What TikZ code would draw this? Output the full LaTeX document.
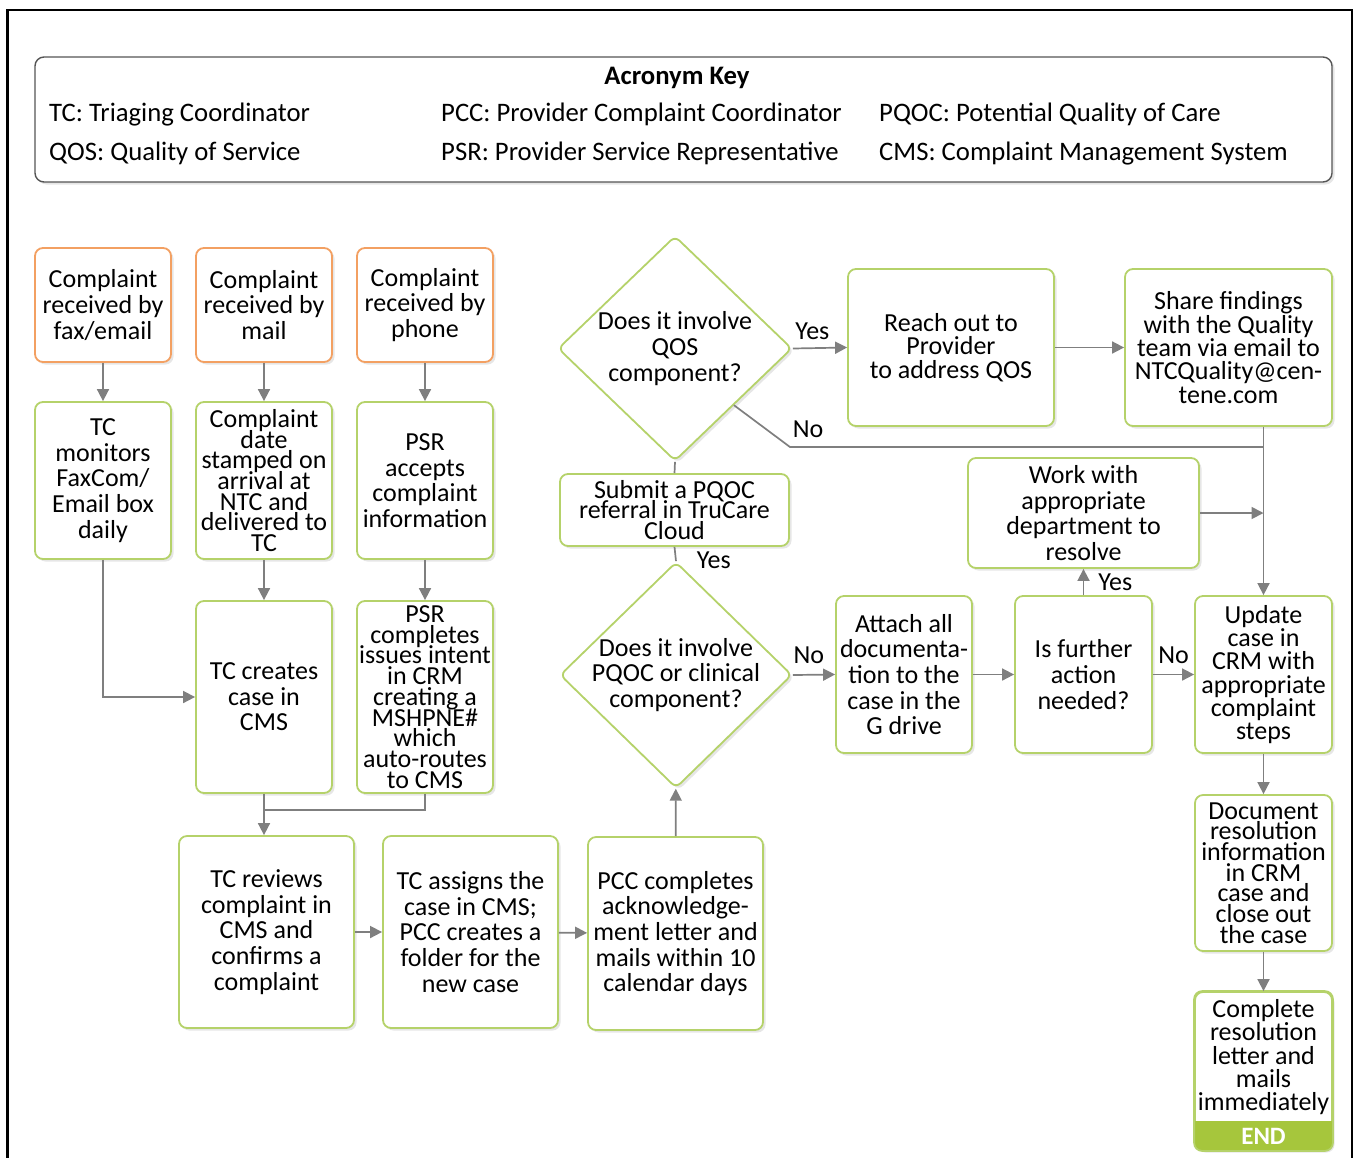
\documentclass[tikz,border=0pt]{standalone}
\usepackage{fontspec}
\setmainfont{Carlito}
\usetikzlibrary{arrows.meta,positioning,shapes.geometric,shadows}
\definecolor{fcgreen}{HTML}{B5D26A}
\definecolor{fcorange}{HTML}{F3A062}
\definecolor{fcgray}{HTML}{7F7F7F}
\definecolor{fckey}{HTML}{555555}
\definecolor{fcend}{HTML}{A6C63C}

\tikzset{
  softshadow/.style={drop shadow={shadow xshift=2.5pt,shadow yshift=-2.5pt,opacity=0.2}},
  txt/.style={font=\fontsize{26pt}{25.6pt}\selectfont},
  txtmid/.style={font=\fontsize{26pt}{23.3pt}\selectfont},
  txttight/.style={font=\fontsize{26pt}{20.7pt}\selectfont},
  basebox/.style={rectangle,rounded corners=8pt,line width=1.8pt,fill=white,
    align=center,inner sep=1pt,softshadow},
  srcbox/.style={basebox,draw=fcorange},
  stepbox/.style={basebox,draw=fcgreen},
  decision/.style={diamond,aspect=1,draw=fcgreen,line width=1.8pt,fill=white,
    rounded corners=6pt,inner sep=-12pt,align=center,softshadow},
  flowline/.style={draw=fcgray,line width=1.7pt},
  flow/.style={flowline,-{Triangle[length=12pt,width=12pt]}},
  lbl/.style={txt,inner sep=2pt},
  keytxt/.style={font=\fontsize{26.7pt}{26.7pt}\selectfont,inner sep=0pt}
}

\begin{document}
\setlength{\lineskiplimit}{-40pt}
\begin{tikzpicture}[x=1pt,y=-1pt]
  \useasboundingbox (0,0) rectangle (1356,1157);
  \clip (0,0) rectangle (1356,1157);

  % ---- Outer frame ------------------------------------------
  \draw[black,line width=2.2pt] (7.5,1180) -- (7.5,10) -- (1352,10) -- (1352,1180);

  % ---- Acronym key ------------------------------------------
  \draw[fckey,line width=1.4pt,rounded corners=9pt,fill=white,softshadow]
    (35,57) rectangle (1332,182);
  \node[keytxt,font=\fontsize{26.7pt}{26.7pt}\selectfont\bfseries] (keytitle) at (677,78) {Acronym Key};
  \node[keytxt,anchor=west] (keytc)   at (49,114.5)  {TC: Triaging Coordinator};
  \node[keytxt,anchor=west] (keypcc)  at (441,114.5) {PCC: Provider Complaint Coordinator};
  \node[keytxt,anchor=west] (keypqoc) at (879,114.5) {PQOC: Potential Quality of Care};
  \node[keytxt,anchor=west] (keyqos)  at (49,153.5)  {QOS: Quality of Service};
  \node[keytxt,anchor=west] (keypsr)  at (441,153.5) {PSR: Provider Service Representative};
  \node[keytxt,anchor=west] (keycms)  at (879,153.5) {CMS: Complaint Management System};

  % ---- Intake -----------------------------------------------
  \node[srcbox,txt,minimum width=136pt,minimum height=114pt] (faxin) at (103,305)
    {Complaint\\received by\\fax/email};
  \node[srcbox,txt,minimum width=136pt,minimum height=114pt] (mailin) at (264,305)
    {Complaint\\received by\\mail};
  \node[srcbox,txt,minimum width=136pt,minimum height=114pt] (phonein) at (425,305)
    {Complaint\\received by\\phone};

  \node[stepbox,txt,minimum width=136pt,minimum height=157pt] (tcmon) at (103,480.5)
    {TC\\monitors\\FaxCom/\\Email box\\daily};
  \node[stepbox,txttight,minimum width=136pt,minimum height=157pt] (datestamp) at (264,480.5)
    {Complaint\\date\\stamped on\\arrival at\\NTC and\\delivered to\\TC};
  \node[stepbox,txt,minimum width=136pt,minimum height=157pt] (psraccept) at (425,480.5)
    {PSR\\accepts\\complaint\\information};

  \node[stepbox,txt,minimum width=136pt,minimum height=192pt] (tccreate) at (264,697)
    {TC creates\\case in\\CMS};
  \node[stepbox,txttight,minimum width=136pt,minimum height=192pt,inner sep=0pt] (psrcomplete) at (425,697)
    {PSR\\completes\\issues intent\\in CRM\\creating a\\MSHPNE\#\\which\\auto-routes\\to CMS};

  % ---- Review and acknowledgement ---------------------------
  \node[stepbox,txt,minimum width=175pt,minimum height=192pt] (tcreview) at (266.5,932)
    {TC reviews\\complaint in\\CMS and\\confirms a\\complaint};
  \node[stepbox,txt,minimum width=175pt,minimum height=192pt] (tcassign) at (470.5,932)
    {TC assigns the\\case in CMS;\\PCC creates a\\folder for the\\new case};
  \node[stepbox,txt,minimum width=175pt,minimum height=193pt] (pccack) at (675.5,933.5)
    {PCC completes\\acknowledge-\\ment letter and\\mails within 10\\calendar days};

  % ---- Decisions --------------------------------------------
  \node[decision,txt,minimum width=234pt,minimum height=225pt] (qosq) at (675,348.5)
    {Does it involve\\QOS\\component?};
  \node[stepbox,txttight,minimum width=229pt,minimum height=72pt] (pqocref) at (674.5,510)
    {Submit a PQOC\\referral in TruCare\\Cloud};
  \node[decision,txt,minimum width=232pt,minimum height=226pt] (pqocq) at (676,675)
    {Does it involve\\PQOC or clinical\\component?};

  % ---- QOS branch -------------------------------------------
  \node[stepbox,txtmid,minimum width=206pt,minimum height=157pt] (reachout) at (951,347.5)
    {Reach out to\\Provider\\to address QOS};
  \node[stepbox,txtmid,minimum width=207pt,minimum height=157pt] (sharefind) at (1228.5,347.5)
    {Share findings\\with the Quality\\team via email to\\NTCQuality@cen-\\tene.com};

  % ---- Resolution -------------------------------------------
  \node[stepbox,txt,minimum width=231pt,minimum height=110pt] (workdept) at (1083.5,513)
    {Work with\\appropriate\\department to\\resolve};
  \node[stepbox,txt,minimum width=136pt,minimum height=157pt] (attachdoc) at (904,674.5)
    {Attach all\\documenta-\\tion to the\\case in the\\G drive};
  \node[stepbox,txt,minimum width=137pt,minimum height=157pt] (furtherq) at (1083.5,674.5)
    {Is further\\action\\needed?};
  \node[stepbox,txtmid,minimum width=137pt,minimum height=157pt] (updcrm) at (1263.5,674.5)
    {Update\\case in\\CRM with\\appropriate\\complaint\\steps};
  \node[stepbox,txttight,minimum width=137pt,minimum height=156pt] (docres) at (1263.5,873)
    {Document\\resolution\\information\\in CRM\\case and\\close out\\the case};
  \node[stepbox,txtmid,minimum width=137pt,minimum height=158pt,text depth=32pt] (closeletter) at (1263.5,1071)
    {Complete\\resolution\\letter and\\mails\\immediately};

  % END band
  \begin{scope}
    \clip[rounded corners=8pt] (closeletter.south west) rectangle (closeletter.north east);
    \fill[fcend] (closeletter.south west) rectangle ([yshift=30pt]closeletter.south east);
  \end{scope}
  \draw[fcgreen,line width=1.8pt,rounded corners=8pt]
    (closeletter.south west) rectangle (closeletter.north east);
  \node[keytxt,font=\fontsize{25pt}{25pt}\selectfont\bfseries,text=white] (endtag)
    at ([yshift=15pt]closeletter.south) {END};

  % ---- Connectors -------------------------------------------
  \draw[flow] (faxin) -- (tcmon);
  \draw[flow] (mailin) -- (datestamp);
  \draw[flow] (phonein) -- (psraccept);
  \draw[flow] (tcmon.south) |- (tccreate.west);
  \draw[flow] (datestamp) -- (tccreate);
  \draw[flow] (psraccept) -- (psrcomplete);

  \coordinate (casejoin) at (264,810);
  \draw[flowline] (psrcomplete.south) |- (casejoin);
  \draw[flow] (tccreate.south) -- (tccreate.south |- tcreview.north);

  \draw[flow] (tcreview) -- (tcassign);
  \draw[flow] (tcassign) -- (pccack);
  \draw[flow] (pccack) -- (pqocq);

  \draw[flowline] (pqocq.north) -- node[lbl,right=18pt,pos=0.05] {Yes} (pqocref.south);
  \draw[flowline] (pqocref.north) -- (qosq.south);

  \draw[flow] (qosq.east) -- node[lbl,above,pos=0.36,yshift=6pt] {Yes} (reachout.west);
  \draw[flow] (reachout) -- (sharefind);

  \coordinate (qosbend) at (790,447);
  \draw[flowline] (qosq.south east) -- (qosbend)
    node[lbl,anchor=south west,yshift=6pt] {No} -- (qosbend -| updcrm.north);
  \draw[flow] (updcrm.north |- sharefind.south) -- (updcrm.north);
  \draw[flow] (workdept.east) -- (workdept.east -| updcrm.north);

  \draw[flow] (pqocq.east) -- node[lbl,above,pos=0.38,yshift=8pt] {No} (attachdoc.west);
  \draw[flow] (attachdoc) -- (furtherq);
  \draw[flow] (furtherq) -- node[lbl,right=12pt] {Yes} (workdept);
  \draw[flow] (furtherq) -- node[lbl,above,yshift=8pt] {No} (updcrm);
  \draw[flow] (updcrm) -- (docres);
  \draw[flow] (docres) -- (closeletter);

\end{tikzpicture}
\end{document}
